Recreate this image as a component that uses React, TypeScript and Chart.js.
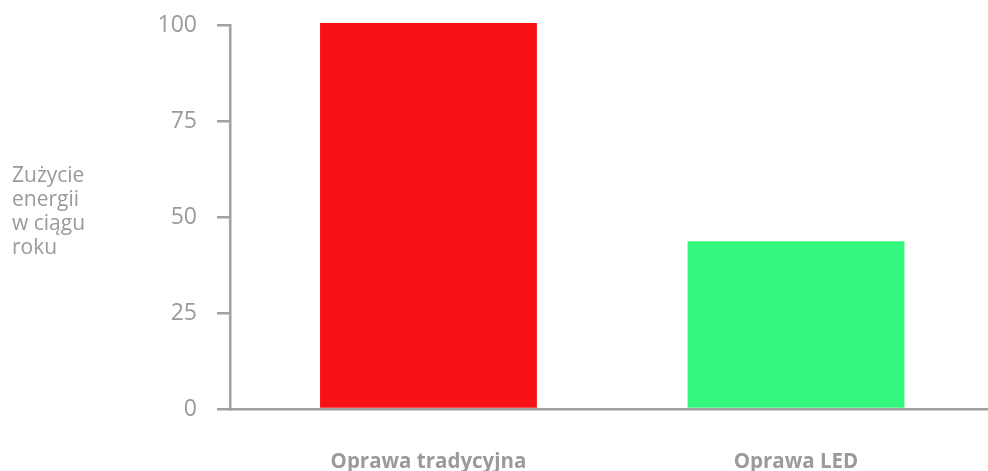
import React, { useEffect, useRef } from "react";
import { Chart, registerables } from "chart.js";

Chart.register(...registerables);

const CATEGORIES = ["Oprawa tradycyjna", "Oprawa LED"];
const VALUES = [100.5, 43.7];
const COLORS = ["#f81114", "#34f87e"];
const Y_TITLE = ["Zużycie", "energii", "w ciągu", "roku"];
const Y_TICKS = [0, 25, 50, 75, 100];

const GRAY = "#a0a0a0";
const TEXT = "#9a9a9a";
const FONT = '"Open Sans", "Noto Sans", sans-serif';

const titlePlugin = {
  id: "yTitleLines",
  afterDraw(chart: any) {
    const ctx = chart.ctx;
    ctx.save();
    ctx.font = `21px ${FONT}`;
    ctx.fillStyle = TEXT;
    ctx.textAlign = "left";
    ctx.textBaseline = "middle";
    Y_TITLE.forEach((line, i) => {
      ctx.fillText(line, 12, 176 + i * 24);
    });
    ctx.restore();
  },
};

export default function App() {
  const ref = useRef<HTMLCanvasElement | null>(null);

  useEffect(() => {
    document.body.style.margin = "0";
    const canvas = ref.current;
    if (!canvas) return;
    const chart = new Chart(canvas, {
      type: "bar",
      data: {
        datasets: [
          {
            data: VALUES.map((y, i) => ({ x: i, y })),
            backgroundColor: COLORS,
            borderWidth: 0,
            barPercentage: 0.59,
            categoryPercentage: 1,
            clip: false as any,
          },
        ],
      },
      options: {
        animation: false,
        responsive: true,
        maintainAspectRatio: false,
        layout: { padding: { top: 25, left: 0, right: 0, bottom: 0 } },
        plugins: {
          legend: { display: false },
          tooltip: { enabled: false },
          title: { display: false },
        },
        scales: {
          x: {
            type: "linear",
            min: -0.54,
            max: 1.5224,
            offset: false,
            bounds: "data",
            afterBuildTicks: (scale: any) => {
              scale.ticks = CATEGORIES.map((_, i) => ({ value: i }));
            },
            afterFit: (scale: any) => {
              scale.height = 62;
              scale.paddingLeft = 0;
              scale.paddingRight = 0;
            },
            ticks: {
              padding: 41,
              color: TEXT,
              font: { family: FONT, size: 20.5, weight: "bold" },
              callback: (v: any) => CATEGORIES[Math.round(Number(v))] ?? "",
              maxRotation: 0,
              autoSkip: false,
            },
            grid: { display: false, drawTicks: false },
            border: { display: true, color: GRAY, width: 2.5 },
          },
          y: {
            min: 0,
            max: 100,
            afterBuildTicks: (scale: any) => {
              scale.ticks = Y_TICKS.map((value) => ({ value }));
            },
            afterFit: (scale: any) => {
              scale.width = 230;
              scale.paddingTop = 0;
              scale.paddingBottom = 0;
            },
            ticks: {
              padding: 20,
              color: TEXT,
              font: { family: FONT, size: 23 },
            },
            grid: {
              drawOnChartArea: false,
              drawTicks: true,
              tickLength: 13,
              color: GRAY,
              lineWidth: 2.5,
            },
            border: { display: true, color: GRAY, width: 2.5 },
          },
        },
      },
      plugins: [titlePlugin],
    });
    return () => chart.destroy();
  }, []);

  return (
    <div style={{ position: "relative", width: "988px", height: "471px" }}>
      <canvas ref={ref} />
    </div>
  );
}
